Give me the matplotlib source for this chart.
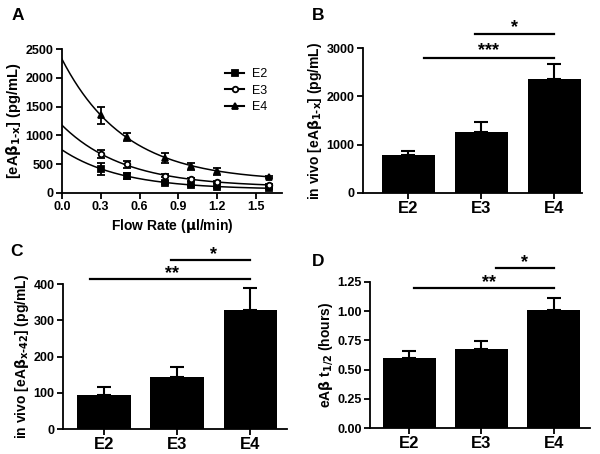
import numpy as np
import matplotlib
matplotlib.use("Agg")
import matplotlib.pyplot as plt

plt.rcParams['font.family'] = ['Liberation Sans', 'DejaVu Sans']
plt.rcParams['font.weight'] = 'bold'
plt.rcParams['axes.labelweight'] = 'bold'

# Panel A: clearance vs flow rate
flow = [0.3, 0.5, 0.8, 1.0, 1.2, 1.6]
e2_a = [420, 300, 180, 130, 100, 80]
e2_a_err = [100, 50, 20, 15, 12, 10]
e3_a = [680, 500, 300, 240, 190, 140]
e3_a_err = [70, 60, 25, 25, 20, 15]
e4_a = [1350, 980, 610, 460, 380, 280]
e4_a_err = [150, 70, 90, 60, 60, 15]
# one-phase decay fit parameters (Y0, plateau, k)
fit_e2 = (750, 60, 2.17)
fit_e3 = (1180, 100, 2.07)
fit_e4 = (2330, 200, 2.05)

# Panels B, C, D
groups = ['E2', 'E3', 'E4']
b_vals = [780, 1260, 2370]
b_err = [90, 220, 310]
c_vals = [95, 145, 328]
c_err = [22, 25, 62]
d_vals = [0.60, 0.68, 1.01]
d_err = [0.06, 0.065, 0.10]

fig = plt.figure(figsize=(6, 4.54), dpi=100)

TICK = 9
LAB = 10

def style(ax):
    for s in ['top', 'right']:
        ax.spines[s].set_visible(False)
    for s in ['left', 'bottom']:
        ax.spines[s].set_linewidth(1.3)
    ax.tick_params(direction='out', width=1.3, length=4, labelsize=TICK, pad=2)
    for lab in ax.get_xticklabels() + ax.get_yticklabels():
        lab.set_fontweight('bold')

# ---- A ----
axA = fig.add_axes([0.103, 0.575, 0.367, 0.317])
xs = np.linspace(0, 1.6, 200)
for vals, err, fit, mk, mfc, lab in [
        (e2_a, e2_a_err, fit_e2, 's', 'black', 'E2'),
        (e3_a, e3_a_err, fit_e3, 'o', 'white', 'E3'),
        (e4_a, e4_a_err, fit_e4, '^', 'black', 'E4')]:
    y0, plat, k = fit
    axA.plot(xs, (y0 - plat) * np.exp(-k * xs) + plat, color='black', lw=1.1)
    axA.errorbar(flow, vals, yerr=err, fmt=mk, color='black', mfc=mfc,
                 mec='black', ms=4, mew=1.3, capsize=3, elinewidth=1.3, capthick=1.3)
    axA.plot([], [], marker=mk, color='black', mfc=mfc, mew=1.3, ms=4, lw=1.5, label=lab)
axA.set_xlim(0, 1.7)
axA.set_ylim(0, 2500)
axA.set_xticks([0.0, 0.3, 0.6, 0.9, 1.2, 1.5])
axA.set_xticklabels(['0.0', '0.3', '0.6', '0.9', '1.2', '1.5'])
axA.set_yticks([0, 500, 1000, 1500, 2000, 2500])
axA.set_xlabel(r'Flow Rate ($\mathbf{\mu}$l/min)', fontsize=LAB, fontweight='bold', labelpad=3)
axA.set_ylabel(r'[eA$\mathbf{\beta}_{\mathbf{1\text{-}x}}$] (pg/mL)', fontsize=LAB + 0.5, fontweight='bold', labelpad=2)
leg = axA.legend(loc='upper left', bbox_to_anchor=(0.72, 0.9), frameon=False,
                 handlelength=1.5, handletextpad=0.6, labelspacing=0.35,
                 borderaxespad=0, prop={'weight': 'normal', 'size': 9})
style(axA)

def bar_panel(rect, vals, err, ylim, yticks, yfmt, ylabel, lines, xlim):
    ax = fig.add_axes(rect)
    x = np.arange(len(groups))
    ax.bar(x, vals, width=0.73, color='black')
    ax.errorbar(x, vals, yerr=[np.zeros(len(err)), err], fmt='none', ecolor='black',
                elinewidth=1.5, capsize=5, capthick=1.5)
    ax.set_xticks(x)
    ax.set_xticklabels(groups)
    ax.set_xlim(*xlim)
    ax.set_ylim(*ylim)
    ax.set_yticks(yticks)
    ax.set_yticklabels([yfmt.format(t) for t in yticks])
    ax.set_ylabel(ylabel, fontsize=LAB, fontweight='bold', labelpad=2)
    for x0, x1, yv, txt, tx, ty in lines:
        ax.plot([x0, x1], [yv, yv], color='black', lw=1.6, clip_on=False)
        ax.text(tx, ty, txt, ha='center', va='center', fontsize=13, fontweight='bold')
    style(ax)
    ax.tick_params(axis='x', labelsize=12)
    return ax

bar_panel([0.605, 0.575, 0.365, 0.319], b_vals, b_err, (0, 3000), [0, 1000, 2000, 3000], '{:d}',
          r'in vivo [eA$\mathbf{\beta}_{\mathbf{1\text{-}x}}$] (pg/mL)',
          [(0.22, 2.0, 2800, '***', 1.1, 2940), (0.92, 2.0, 3290, '*', 1.45, 3420)],
          (-0.62, 2.38))

bar_panel([0.105, 0.055, 0.373, 0.319], c_vals, c_err, (0, 400), [0, 100, 200, 300, 400], '{:d}',
          r'in vivo [eA$\mathbf{\beta}_{\mathbf{x\text{-}42}}$] (pg/mL)',
          [(-0.19, 2.0, 414, '**', 0.93, 430), (0.92, 2.0, 466, '*', 1.5, 482)],
          (-0.56, 2.5))

bar_panel([0.617, 0.057, 0.366, 0.322], d_vals, d_err, (0, 1.25), [0, 0.25, 0.5, 0.75, 1.0, 1.25], '{:.2f}',
          r'eA$\mathbf{\beta}$ t$_{\mathbf{1/2}}$ (hours)',
          [(0.06, 2.0, 1.2, '**', 1.1, 1.245), (1.2, 2.0, 1.37, '*', 1.6, 1.415)],
          (-0.54, 2.5))

for lbl, xx, yy in [('A', 0.02, 0.965), ('B', 0.52, 0.965), ('C', 0.017, 0.445), ('D', 0.52, 0.425)]:
    fig.text(xx, yy, lbl, fontsize=12.5, fontweight='bold', ha='left', va='center')

fig.savefig('out.png', dpi=100)
